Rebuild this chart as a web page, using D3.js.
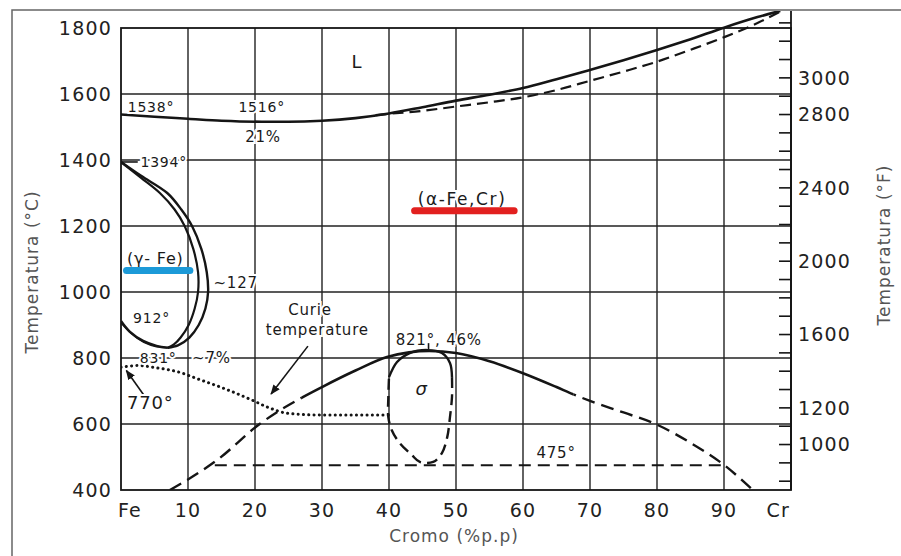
<!DOCTYPE html>
<html>
<head>
<meta charset="utf-8">
<script src="https://cdn.jsdelivr.net/npm/d3@7"></script>
<style>
  body { margin: 0; background: #fff; }
  svg { display: block; font-family: "DejaVu Sans", sans-serif; }
</style>
</head>
<body>
<svg id="chart" width="901" height="556"></svg>
<script>
// axis values
const xTicks = [0, 10, 20, 30, 40, 50, 60, 70, 80, 90, 100];
const xTickLabels = ["Fe", "10", "20", "30", "40", "50", "60", "70", "80", "90", "Cr"];
const yTicksC = [400, 600, 800, 1000, 1200, 1400, 1600, 1800];
const fTickMarks = [800, 900, 1000, 1100, 1200, 1300, 1400, 1500, 1600, 1700, 1800, 1900, 2000, 2100,
  2200, 2300, 2400, 2500, 2600, 2700, 2800, 2900, 3000, 3100, 3200, 3300];
const fTickLabels = [1000, 1200, 1600, 2000, 2400, 2800, 3000];

// phase boundaries, [wt% Cr, °C]
const liquidus = [[0,1538],[5,1531],[10,1525],[15,1519],[21,1516],[25,1516],[30,1519],[35,1527],[40,1541],
  [45,1560],[50,1580],[55,1598],[60,1618],[65,1645],[70,1673],[75,1702],[80,1733],[85,1766],[90,1801],[95,1833],[98.4,1852]];
const solidus = [[38,1536],[40,1540],[45,1549],[50,1562],[55,1575],[60,1590],[65,1612],[70,1640],[75,1668],
  [80,1698],[85,1734],[90,1772],[95,1815],[98.4,1850]];
const gammaOuter = [[0,1394],[3,1352],[6.9,1300],[9,1250],[10.6,1200],[12,1130],[12.8,1060],[13,1000],
  [12.6,950],[11.6,900],[10.2,862],[8.5,838],[7,831]];
const gammaInner = [[0,1394],[3,1346],[5.8,1300],[8,1250],[9.5,1200],[10.8,1130],[11.5,1060],[11.5,1000],
  [11,950],[10.1,900],[8.9,862],[7.9,841],[7,831]];
const gammaLower = [[0,912],[1.3,880],[3.3,852],[5.3,837],[7,831]];
const gammaLower2 = [[0,906],[1.5,874],[3.4,847],[5.3,834],[7,831]];
const curie = [[0,772],[2.5,777],[5.4,770],[9,755],[11,740],[15.2,709],[19.5,673],[22,650],[25,632],[30,627],[40,627]];
const dome = [[7.3,400],[10,432],[14.3,490],[20.7,600],[24,645],[27,680],[30,712],[35,762],[39.7,803],[43,817],
  [46,821],[50,815],[55,790],[60,754],[65,712],[67.5,690],[70,670],[75,635],[80,598],[85,543],[90,476],[94.3,400]];
const domeSolidRange = [27, 67.5];
const sigmaTop = [[40,742],[41.2,788],[43.1,815],[45.7,824],[47.9,815],[49.1,785],[49.4,742]];
const sigmaBottom = [[49.4,742],[49.4,682],[49.1,621],[48.7,561],[47.9,512],[46.6,485],[44.6,485],
  [43.4,506],[41.6,542],[40.4,582],[39.9,621],[39.9,682],[40,742]];
const line475 = [[14,475],[90,475]];

// annotations, [wt% Cr, °C]
const labels = [
  { t: "L", p: [35.2, 1697], size: 18, anchor: "middle" },
  { t: "1538°", p: [1.0, 1561], size: 14, anchor: "start" },
  { t: "1516°", p: [21, 1561], size: 14, anchor: "middle" },
  { t: "21%", p: [21.2, 1472], size: 15, anchor: "middle" },
  { t: "1394°", p: [2.9, 1394], size: 14, anchor: "start" },
  { t: "(γ- Fe)", p: [0.9, 1103], size: 16, anchor: "start" },
  { t: "~127", p: [13.8, 1027], size: 15, anchor: "start" },
  { t: "912°", p: [1.8, 921], size: 14, anchor: "start" },
  { t: "831°", p: [2.8, 800], size: 14, anchor: "start" },
  { t: "~7%", p: [10.6, 800], size: 15, anchor: "start" },
  { t: "770°", p: [0.9, 664], size: 18, anchor: "start" },
  { t: "Curie", p: [28.2, 946], size: 15, anchor: "middle" },
  { t: "temperature", p: [29.3, 885], size: 15, anchor: "middle" },
  { t: "821°, 46%", p: [41, 855], size: 15, anchor: "start" },
  { t: "(α-Fe,Cr)", p: [44.3, 1282], size: 17, anchor: "start", ls: 1.6 },
  { t: "475°", p: [62, 512], size: 15, anchor: "start" }
];
const arrows = [
  { from: [27.9, 836], to: [22.4, 691] },
  { from: [3.4, 688], to: [0.8, 762] }
];
const highlights = [
  { from: 0.3, to: 10.8, T: 1065, color: "#1c9ad8" },
  { from: 43.3, to: 59.2, T: 1246, color: "#e2201f" }
];

const svg = d3.select("#chart");
const x = d3.scaleLinear().domain([0, 100]).range([121, 791]);
const y = d3.scaleLinear().domain([400, 1800]).range([490, 28]);
const toC = f => (f - 32) * 5 / 9;
const ink = "#151515";

// outer frame
svg.append("rect").attr("x", 12).attr("y", 10).attr("width", 900).attr("height", 560)
  .attr("fill", "none").attr("stroke", "#666").attr("stroke-width", 1.5);

const defs = svg.append("defs");
defs.append("clipPath").attr("id", "clip").append("rect")
  .attr("x", x(0)).attr("y", 11).attr("width", x(100) - x(0)).attr("height", y(400) - 11);
defs.append("clipPath").attr("id", "domeSolid").append("rect")
  .attr("x", x(domeSolidRange[0])).attr("y", 0)
  .attr("width", x(domeSolidRange[1]) - x(domeSolidRange[0])).attr("height", 556);
defs.append("clipPath").attr("id", "domeDash").selectAll("rect")
  .data([[0, domeSolidRange[0]], [domeSolidRange[1], 100]]).enter().append("rect")
  .attr("x", d => x(d[0])).attr("y", 0).attr("width", d => x(d[1]) - x(d[0])).attr("height", y(400));
defs.append("marker").attr("id", "arr").attr("viewBox", "0 0 10 8").attr("refX", 9).attr("refY", 4)
  .attr("markerWidth", 10).attr("markerHeight", 8).attr("markerUnits", "userSpaceOnUse").attr("orient", "auto")
  .append("path").attr("d", "M0,0 L10,4 L0,8 Z").attr("fill", ink);

// grid
const grid = svg.append("g").attr("stroke", "#222").attr("stroke-width", 1.4);
grid.selectAll(".gx").data(xTicks.slice(1, -1)).enter().append("line")
  .attr("x1", d => x(d)).attr("x2", d => x(d)).attr("y1", y(1800)).attr("y2", y(400));
grid.selectAll(".gy").data(yTicksC.slice(1, -1)).enter().append("line")
  .attr("x1", x(0)).attr("x2", x(100)).attr("y1", d => y(d)).attr("y2", d => y(d));

// plot box and right axis
svg.append("rect").attr("x", x(0)).attr("y", y(1800)).attr("width", x(100) - x(0)).attr("height", y(400) - y(1800))
  .attr("fill", "none").attr("stroke", ink).attr("stroke-width", 1.8);
svg.append("line").attr("x1", x(100)).attr("x2", x(100)).attr("y1", 11).attr("y2", y(400))
  .attr("stroke", ink).attr("stroke-width", 1.8);
svg.append("g").selectAll("line").data(fTickMarks.filter(f => y(toC(f)) > 12)).enter().append("line")
  .attr("x1", x(100) - 12).attr("x2", x(100))
  .attr("y1", d => y(toC(d))).attr("y2", d => y(toC(d)))
  .attr("stroke", ink).attr("stroke-width", 1.6);

// tick labels
const tickStyle = s => s.attr("font-size", 19).attr("letter-spacing", 1.2).attr("fill", "#222");
svg.append("g").selectAll("text").data(yTicksC).enter().append("text")
  .attr("x", x(0) - 9).attr("y", d => y(d)).attr("dy", "0.36em").attr("text-anchor", "end")
  .text(d => d).call(tickStyle);
svg.append("g").selectAll("text").data(fTickLabels).enter().append("text")
  .attr("x", x(100) + 7).attr("y", d => y(toC(d))).attr("dy", "0.36em")
  .text(d => d).call(tickStyle);
svg.append("g").selectAll("text").data(xTicks).enter().append("text")
  .attr("x", (d, i) => i === 0 ? x(d) - 3 : i === xTicks.length - 1 ? x(d) - 1 : x(d))
  .attr("y", y(400) + 27)
  .attr("text-anchor", (d, i) => i === 0 ? "start" : i === xTicks.length - 1 ? "end" : "middle")
  .text((d, i) => xTickLabels[i]).call(tickStyle);

// axis titles
const titleStyle = s => s.attr("font-size", 17).attr("letter-spacing", 1).attr("fill", "#555").attr("text-anchor", "middle");
svg.append("text").attr("transform", "translate(38,272) rotate(-90)").text("Temperatura (°C)").call(titleStyle);
svg.append("text").attr("transform", "translate(890,245) rotate(-90)").text("Temperatura (°F)").call(titleStyle);
svg.append("text").attr("x", 454).attr("y", 542).text("Cromo (%p.p)").call(titleStyle);

// phase boundaries
const lineX = d3.line().x(d => x(d[0])).y(d => y(d[1])).curve(d3.curveMonotoneX);
const lineLoop = d3.line().x(d => x(d[0])).y(d => y(d[1])).curve(d3.curveCatmullRom.alpha(0.5));
const curves = svg.append("g").attr("clip-path", "url(#clip)").attr("fill", "none").attr("stroke", ink);
const draw = (pts, gen, w, dash) => curves.append("path").datum(pts).attr("d", gen)
  .attr("stroke-width", w).attr("stroke-dasharray", dash || null);
draw(solidus, lineX, 2.2, "11,6");
draw(liquidus, lineX, 2.6);
draw(gammaOuter, lineLoop, 2.4);
draw(gammaInner, lineLoop, 2.2);
draw(gammaLower, lineLoop, 2.4);
draw(gammaLower2, lineLoop, 1.4);
draw(dome, lineX, 2.4, "13,7").attr("clip-path", "url(#domeDash)");
draw(dome, lineX, 2.6).attr("clip-path", "url(#domeSolid)");
draw(line475, lineX, 2, "12,7");
draw(sigmaTop, lineLoop, 2.4);
draw(sigmaBottom, lineLoop, 2.4, "11,6");
draw(curie, lineX, 3, "0.1,5.2").attr("stroke-linecap", "round");

// leaders and arrows
svg.append("line").attr("x1", x(0)).attr("x2", x(2.5)).attr("y1", y(1394)).attr("y2", y(1394))
  .attr("stroke", ink).attr("stroke-width", 1.6);
svg.append("line").attr("x1", x(45.9)).attr("x2", x(45.9)).attr("y1", y(845)).attr("y2", y(826))
  .attr("stroke", ink).attr("stroke-width", 1.6);
svg.append("g").selectAll("line").data(arrows).enter().append("line")
  .attr("x1", d => x(d.from[0])).attr("y1", d => y(d.from[1]))
  .attr("x2", d => x(d.to[0])).attr("y2", d => y(d.to[1]))
  .attr("stroke", ink).attr("stroke-width", 1.6).attr("marker-end", "url(#arr)");

// labels
svg.append("g").selectAll("text").data(labels).enter().append("text")
  .attr("x", d => x(d.p[0])).attr("y", d => y(d.p[1])).attr("dy", "0.36em")
  .attr("text-anchor", d => d.anchor).attr("font-size", d => d.size).attr("letter-spacing", d => d.ls || 0.8)
  .attr("fill", "#1a1a1a").attr("stroke", "#fff").attr("stroke-width", 4).attr("paint-order", "stroke")
  .text(d => d.t);
svg.append("text").attr("x", x(44.8)).attr("y", y(703)).attr("dy", "0.3em").attr("text-anchor", "middle")
  .attr("font-size", 18).attr("font-style", "italic").attr("fill", "#1a1a1a").text("σ");

// coloured highlight bars
svg.append("g").selectAll("rect").data(highlights).enter().append("rect")
  .attr("x", d => x(d.from)).attr("width", d => x(d.to) - x(d.from))
  .attr("y", d => y(d.T) - 3.5).attr("height", 7).attr("rx", 3.5)
  .attr("fill", d => d.color);
</script>
</body>
</html>
